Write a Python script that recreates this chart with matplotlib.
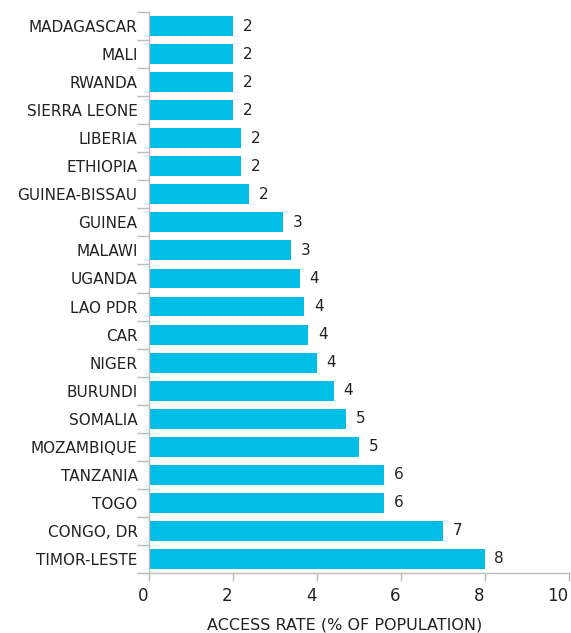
import matplotlib.pyplot as plt
import numpy as np

# dados (taxa de acesso, % da população)
paises = ["MADAGASCAR", "MALI", "RWANDA", "SIERRA LEONE", "LIBERIA", "ETHIOPIA",
          "GUINEA-BISSAU", "GUINEA", "MALAWI", "UGANDA", "LAO PDR", "CAR", "NIGER",
          "BURUNDI", "SOMALIA", "MOZAMBIQUE", "TANZANIA", "TOGO", "CONGO, DR",
          "TIMOR-LESTE"]
taxa = [2.0, 2.0, 2.0, 2.0, 2.2, 2.2, 2.4, 3.2, 3.4, 3.6, 3.7, 3.8, 4.0,
        4.4, 4.7, 5.0, 5.6, 5.6, 7.0, 8.0]
xticks = [0, 2, 4, 6, 8, 10]

cor_barra = "#00BEE6"
cor_texto = "#222222"
cor_eixo = "#BBBBBB"

fig = plt.figure(figsize=(5.71, 6.33), dpi=100)
ax = fig.add_axes([0.2604, 0.0948, 0.7356, 0.8862])

y = np.arange(len(paises))
ax.barh(y, taxa, height=0.71, color=cor_barra)

# rótulos de valor (arredondados)
for yi, v in zip(y, taxa):
    ax.annotate(f"{v:.0f}", (v, yi), xytext=(7, 0), textcoords="offset points",
                va="center", ha="left", fontsize=11, color=cor_texto)

ax.set_ylim(len(paises) - 0.5, -0.5)
ax.set_xlim(0, 10)
ax.set_yticks(y)
ax.set_yticklabels(paises, fontsize=11, color=cor_texto)
ax.set_yticks(np.arange(-0.5, len(paises), 1), minor=True)
ax.tick_params(axis="y", which="major", length=0, pad=8)
ax.tick_params(axis="y", which="minor", length=9, color=cor_eixo, width=1)

ax.set_xticks(xticks)
ax.set_xticklabels([str(t) for t in xticks], fontsize=12, color=cor_texto, ha="right")
ax.tick_params(axis="x", length=6, color=cor_eixo, width=1, pad=4)
ax.set_xlabel("ACCESS RATE (% OF POPULATION)", fontsize=11.5, color=cor_texto,
              labelpad=9, x=0.466)

for lado in ["top", "right"]:
    ax.spines[lado].set_visible(False)
for lado in ["left", "bottom"]:
    ax.spines[lado].set_color(cor_eixo)
    ax.spines[lado].set_linewidth(1)

fig.savefig("out.png", dpi=100)
